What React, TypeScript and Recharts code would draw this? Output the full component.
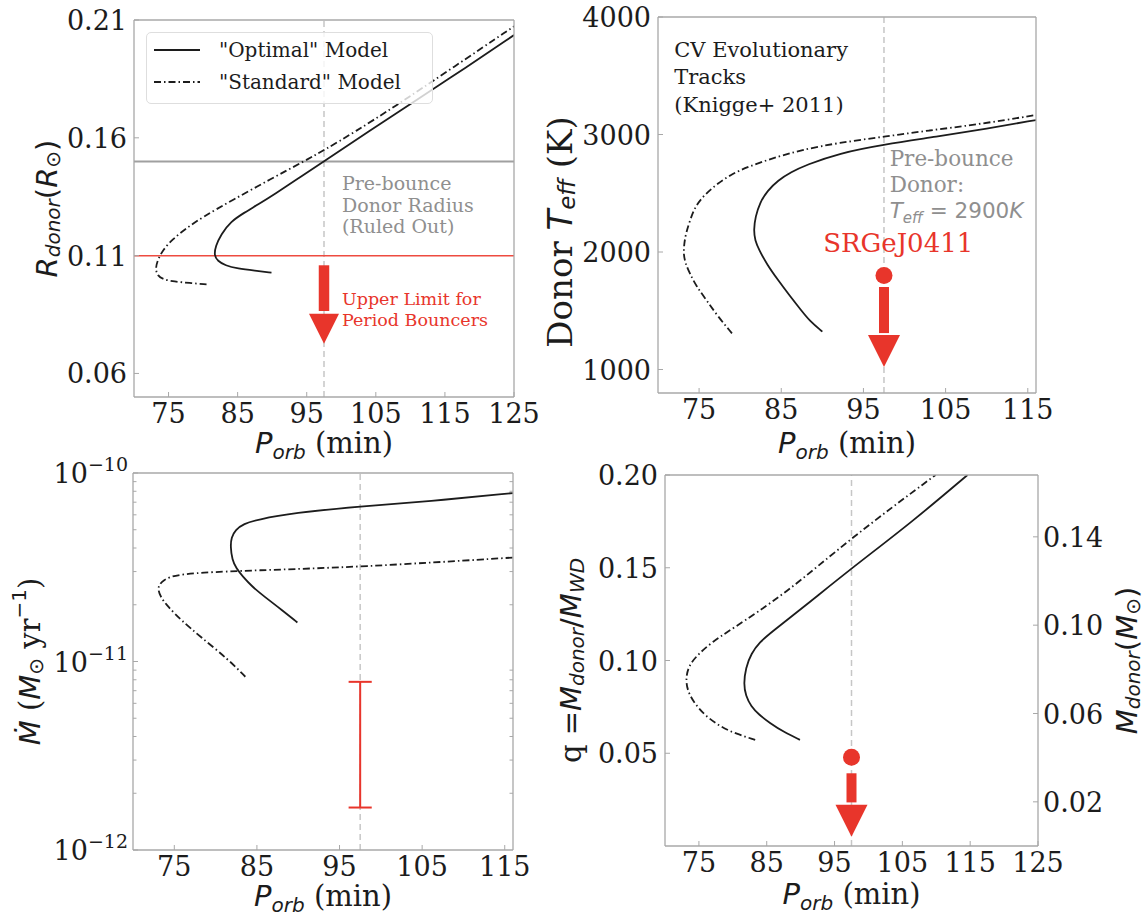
import {
  ComposedChart, Line, XAxis, YAxis, ReferenceLine, ReferenceDot, Legend,
} from 'recharts'

const SERIF = "'DejaVu Serif', serif"
const SANS = "'DejaVu Sans', sans-serif"
const INK = '#1c1c1c'
const RED = '#e8352b'
const RED_LINE = '#ee4b40'
const NOTE_GRAY = '#8f8f8f'
const SPINE = '#a8a8a8'
const GUIDE = '#c6c6c6'
const DASH_DOT = '7 3 1.5 3'

const SRG_PERIOD = 97.5
const MODEL_NAMES = ['"Optimal" Model', '"Standard" Model']
const MODEL_DASHES = [undefined, DASH_DOT]

// --- donor radius vs period
const P_TICKS_125 = [75, 85, 95, 105, 115, 125]
const P_TICKS_115 = [75, 85, 95, 105, 115]
const R_TICKS = [0.06, 0.11, 0.16, 0.21]
const radOptP = [89.9, 87.5, 85.0, 83.2, 82.1, 81.6, 81.8, 82.6, 84.0, 86.0, 88.0, 90.3, 94.0, 97.5, 104.0, 110.6, 118.0, 125.0]
const radOptR = [0.1028, 0.1036, 0.1045, 0.1058, 0.1078, 0.11, 0.114, 0.119, 0.1245, 0.1283, 0.1318, 0.136, 0.1432, 0.15, 0.1628, 0.1755, 0.1897, 0.2036]
const radStdP = [80.5, 78.0, 75.8, 74.2, 73.4, 73.1, 73.4, 74.2, 75.6, 77.5, 80.0, 84.2, 89.8, 94.7, 97.5, 102.0, 107.4, 116.0, 125.0]
const radStdR = [0.0978, 0.0984, 0.099, 0.0999, 0.1015, 0.1044, 0.108, 0.1125, 0.117, 0.1215, 0.1265, 0.1335, 0.1425, 0.1502, 0.1547, 0.1626, 0.1726, 0.1895, 0.2073]
const PREBOUNCE_R = 0.15
const BOUNCER_R = 0.11
const R_ARROW = [0.1059, 0.0865, 0.0726] // shaft top, shaft end, tip

// --- donor temperature vs period
const T_TICKS = [1000, 2000, 3000, 4000]
const tOptP = [90.0, 88.5, 87.4, 86.0, 84.6, 83.3, 82.3, 81.8, 81.65, 81.85, 82.4, 83.3, 84.6, 86.2, 88.0, 92.0, 97.5, 103.9, 110.0, 116.0]
const tOptT = [1322, 1410, 1506, 1630, 1762, 1890, 2017, 2100, 2187, 2300, 2420, 2520, 2610, 2680, 2740, 2840, 2915, 2981, 3050, 3123]
const tStdP = [79.0, 77.3, 75.9, 74.7, 73.85, 73.3, 73.1, 73.2, 73.4, 73.9, 74.5, 75.7, 77.3, 79.0, 81.0, 84.0, 87.4, 92.0, 97.5, 103.0, 108.5, 116.0]
const tStdT = [1308, 1450, 1591, 1705, 1819, 1910, 1989, 2075, 2159, 2270, 2386, 2490, 2585, 2665, 2726, 2800, 2868, 2930, 2981, 3035, 3081, 3166]
const SRG_TEFF = 1800
const T_ARROW = [1702, 1310, 1021]

// --- mass transfer rate vs period
const MDOT_TICKS = [1e-12, 1e-11, 1e-10]
const MDOT_MINOR = [2e-12, 3e-12, 4e-12, 5e-12, 6e-12, 7e-12, 8e-12, 9e-12, 2e-11, 3e-11, 4e-11, 5e-11, 6e-11, 7e-11, 8e-11, 9e-11]
const mOptP = [89.9, 88.0, 85.9, 84.4, 83.3, 82.5, 82.0, 81.8, 81.9, 82.4, 83.4, 85.0, 89.4, 97.5, 105.8, 116.0]
const mOptM = [1.61e-11, 1.88e-11, 2.21e-11, 2.5e-11, 2.82e-11, 3.12e-11, 3.47e-11, 4.07e-11, 4.55e-11, 5.0e-11, 5.38e-11, 5.65e-11, 6.14e-11, 6.65e-11, 7.07e-11, 7.83e-11]
const mStdP = [83.6, 81.6, 78.1, 75.8, 74.2, 73.4, 73.0, 73.2, 73.8, 74.5, 75.5, 78.0, 84.2, 97.5, 116.0]
const mStdM = [8.3e-12, 1.02e-11, 1.36e-11, 1.66e-11, 1.96e-11, 2.18e-11, 2.4e-11, 2.58e-11, 2.71e-11, 2.81e-11, 2.88e-11, 2.96e-11, 3.04e-11, 3.17e-11, 3.56e-11]
const SRG_MDOT = [1.68e-12, 7.8e-12]

// --- mass ratio vs period
const Q_TICKS = [0.05, 0.1, 0.15, 0.2]
const MASS_TICKS = [0.02, 0.06, 0.1, 0.14]
const WD_MASS = 0.84
const Q_MAX = 0.2
const qOptP = [89.9, 87.5, 85.5, 83.8, 82.7, 81.9, 81.6, 81.9, 82.7, 84.0, 85.5, 90.5, 97.5, 106.5, 114.6]
const qOptQ = [0.0572, 0.0615, 0.0662, 0.071, 0.0752, 0.081, 0.0874, 0.096, 0.1038, 0.11, 0.1147, 0.129, 0.1497, 0.1749, 0.2]
const qStdP = [83.3, 80.5, 78.3, 76.0, 74.4, 73.4, 73.05, 73.4, 75.0, 77.0, 79.4, 87.7, 97.5, 109.9]
const qStdQ = [0.0572, 0.0605, 0.064, 0.07, 0.0766, 0.083, 0.0892, 0.097, 0.1038, 0.11, 0.1159, 0.1357, 0.1663, 0.2]
const SRG_Q = 0.0478
const Q_ARROW = [0.0392, 0.0235, 0.005]

const zip = (xs: number[], ys: number[]) => xs.map((x, i) => ({ x, y: ys[i] }))

const axisLine = { stroke: SPINE, strokeWidth: 1.3 }
const tickLine = { stroke: SPINE, strokeWidth: 1 }

function XTick({ x, y, payload }: any) {
  return (
    <text x={x} y={y} dy={20} textAnchor="middle" fontFamily={SERIF} fontSize={27} fill={INK}>
      {payload.value}
    </text>
  )
}

function NumTick({ x, y, payload, digits = 0, anchor = 'end' }: any) {
  return (
    <text x={x} y={y} dy={10} textAnchor={anchor} fontFamily={SERIF} fontSize={27} fill={INK}>
      {Number(payload.value).toFixed(digits)}
    </text>
  )
}

function PowTick({ x, y, payload }: any) {
  const exp = Math.round(Math.log10(payload.value))
  return (
    <text x={x} y={y} dy={10} textAnchor="end" fontFamily={SERIF} fontSize={27} fill={INK}>
      10<tspan dy={-12} fontSize={19}>{`\u2212${Math.abs(exp)}`}</tspan>
    </text>
  )
}

function RotLabel({ x, y, size = 29, children }: any) {
  return (
    <text x={x} y={y} transform={`rotate(-90 ${x} ${y})`} textAnchor="middle" dominantBaseline="central"
      fontFamily={SERIF} fontSize={size} fill={INK}>
      {children}
    </text>
  )
}

function PorbLabel({ x, y }: any) {
  return (
    <text x={x} y={y} textAnchor="middle" fontFamily={SERIF} fontSize={29} fill={INK}>
      <tspan fontFamily={SANS} fontStyle="italic">P</tspan>
      <tspan fontFamily={SANS} fontStyle="italic" fontSize={20} dy={6}>orb</tspan>
      <tspan dy={-6}>{' (min)'}</tspan>
    </text>
  )
}

function ArrowHead({ cx, cy, w, h }: any) {
  return <polygon points={`${cx - w / 2},${cy - h} ${cx + w / 2},${cy - h} ${cx},${cy}`} fill={RED} />
}

function Note({ cx, cy, lines, size, step, color }: any) {
  return (
    <text x={cx} y={cy} fontFamily={SERIF} fontSize={size} fill={color}>
      {lines.map((l: any, i: number) => (
        <tspan key={i} x={cx} dy={i === 0 ? 0 : step}>{l}</tspan>
      ))}
    </text>
  )
}

function ModelLegend() {
  return (
    <div style={{
      width: 287, height: 72, boxSizing: 'border-box', border: '1px solid #dedede',
      borderRadius: 5, background: 'rgba(255,255,255,0.8)',
    }}>
      <svg width={285} height={70} style={{ display: 'block' }}>
        {MODEL_NAMES.map((name, i) => (
          <g key={name}>
            <line x1={7} x2={53} y1={17 + i * 32} y2={17 + i * 32} stroke={INK} strokeWidth={1.8}
              strokeDasharray={MODEL_DASHES[i]} />
            <text x={72} y={24 + i * 32} fontFamily={SERIF} fontSize={20} fill={INK}>{name}</text>
          </g>
        ))}
      </svg>
    </div>
  )
}

function tracks(opt: { x: number, y: number }[], std: { x: number, y: number }[]) {
  return [
    <Line key="std" data={std} dataKey="y" name={MODEL_NAMES[1]} type="basis" stroke={INK} strokeWidth={1.8}
      strokeDasharray={DASH_DOT} dot={false} activeDot={false} isAnimationActive={false} />,
    <Line key="opt" data={opt} dataKey="y" name={MODEL_NAMES[0]} type="basis" stroke={INK} strokeWidth={1.8}
      dot={false} activeDot={false} isAnimationActive={false} />,
  ]
}

function RadiusPanel() {
  return (
    <div style={{ position: 'absolute', left: 0, top: 0 }}>
      <ComposedChart width={560} height={466} margin={{ top: 19, right: 45, bottom: 0, left: 0 }}>
        <XAxis dataKey="x" type="number" domain={[70, 125]} ticks={P_TICKS_125} allowDataOverflow height={69}
          tickSize={-5} tickMargin={11} tick={XTick} axisLine={axisLine} tickLine={tickLine}
          label={() => <PorbLabel x={324} y={453} />} />
        <XAxis xAxisId="top" orientation="top" type="number" domain={[70, 125]} ticks={P_TICKS_125} allowDataOverflow
          height={1} tick={false} tickSize={-5} axisLine={axisLine} tickLine={tickLine} />
        <YAxis type="number" domain={[0.05, 0.21]} ticks={R_TICKS} allowDataOverflow width={134}
          tickSize={-5} tickMargin={12} tick={(p: any) => <NumTick {...p} digits={2} />} axisLine={axisLine} tickLine={tickLine}
          label={() => (
            <RotLabel x={47} y={208.5}>
              <tspan fontFamily={SANS} fontStyle="italic">R</tspan>
              <tspan fontFamily={SANS} fontStyle="italic" fontSize={20} dy={6}>donor</tspan>
              <tspan fontFamily={SANS} dy={-6}>(</tspan>
              <tspan fontFamily={SANS} fontStyle="italic">R</tspan>
              <tspan fontFamily={SANS} fontSize={20} dy={6}>⊙</tspan>
              <tspan fontFamily={SANS} dy={-6}>)</tspan>
            </RotLabel>
          )} />
        <YAxis yAxisId="right" orientation="right" type="number" domain={[0.05, 0.21]} ticks={R_TICKS} allowDataOverflow
          width={1} tick={false} tickSize={-5} axisLine={axisLine} tickLine={tickLine} />
        <ReferenceLine x={SRG_PERIOD} stroke={GUIDE} strokeDasharray="6 4" strokeWidth={1.5} />
        <ReferenceLine y={PREBOUNCE_R} stroke="#a0a0a0" strokeWidth={2} />
        <ReferenceLine y={BOUNCER_R} stroke={RED_LINE} strokeWidth={1.5} />
        {tracks(zip(radOptP, radOptR), zip(radStdP, radStdR))}
        <ReferenceLine segment={[{ x: SRG_PERIOD, y: R_ARROW[0] }, { x: SRG_PERIOD, y: R_ARROW[1] }]}
          stroke={RED} strokeWidth={10.5} />
        <ReferenceDot x={SRG_PERIOD} y={R_ARROW[2]} shape={(p: any) => <ArrowHead {...p} w={30} h={30} />} />
        <ReferenceDot x={100.1} y={0.1378} shape={(p: any) => (
          <Note {...p} lines={['Pre-bounce', 'Donor Radius', '(Ruled Out)']} size={19} step={21.5} color={NOTE_GRAY} />
        )} />
        <ReferenceDot x={100.1} y={0.0891} shape={(p: any) => (
          <Note {...p} lines={['Upper Limit for', 'Period Bouncers']} size={17.5} step={21.5} color={RED} />
        )} />
        <Legend content={ModelLegend} layout="vertical" align="center" verticalAlign="middle"
          wrapperStyle={{ left: 146, top: 32, width: 287, height: 72 }} />
      </ComposedChart>
    </div>
  )
}

function TeffPanel() {
  return (
    <div style={{ position: 'absolute', left: 540, top: 0 }}>
      <ComposedChart width={537} height={466} margin={{ top: 16, right: 40, bottom: 0, left: 0 }}>
        <XAxis dataKey="x" type="number" domain={[70, 116]} ticks={P_TICKS_115} allowDataOverflow height={73}
          tickSize={-5} tickMargin={11} tick={XTick} axisLine={axisLine} tickLine={tickLine}
          label={() => <PorbLabel x={307} y={453} />} />
        <XAxis xAxisId="top" orientation="top" type="number" domain={[70, 116]} ticks={P_TICKS_115} allowDataOverflow
          height={1} tick={false} tickSize={-5} axisLine={axisLine} tickLine={tickLine} />
        <YAxis type="number" domain={[800, 4000]} ticks={T_TICKS} allowDataOverflow width={118}
          tickSize={-5} tickMargin={12} tick={(p: any) => <NumTick {...p} />} axisLine={axisLine} tickLine={tickLine}
          label={() => (
            <RotLabel x={20} y={232} size={34}>
              <tspan>{'Donor '}</tspan>
              <tspan fontFamily={SANS} fontStyle="italic">T</tspan>
              <tspan fontFamily={SANS} fontStyle="italic" fontSize={23} dy={7}>eff</tspan>
              <tspan dy={-7}>{' (K)'}</tspan>
            </RotLabel>
          )} />
        <YAxis yAxisId="right" orientation="right" type="number" domain={[800, 4000]} ticks={T_TICKS} allowDataOverflow
          width={1} tick={false} tickSize={-5} axisLine={axisLine} tickLine={tickLine} />
        <ReferenceLine x={SRG_PERIOD} stroke={GUIDE} strokeDasharray="6 4" strokeWidth={1.5} />
        {tracks(zip(tOptP, tOptT), zip(tStdP, tStdT))}
        <ReferenceLine segment={[{ x: SRG_PERIOD, y: T_ARROW[0] }, { x: SRG_PERIOD, y: T_ARROW[1] }]}
          stroke={RED} strokeWidth={10} />
        <ReferenceDot x={SRG_PERIOD} y={T_ARROW[2]} shape={(p: any) => <ArrowHead {...p} w={32} h={32} />} />
        <ReferenceDot x={SRG_PERIOD} y={SRG_TEFF} r={8.5} fill={RED} stroke="none" />
        <ReferenceDot x={71.98} y={3661} shape={(p: any) => (
          <Note {...p} lines={['CV Evolutionary', 'Tracks', '(Knigge+ 2011)']} size={21} step={27.5} color={INK} />
        )} />
        <ReferenceDot x={98.19} y={2732} shape={(p: any) => (
          <Note {...p} size={21.5} step={26} color={NOTE_GRAY} lines={[
            'Pre-bounce', 'Donor:',
            <tspan key="t" fontFamily={SANS}>
              <tspan fontStyle="italic">T</tspan>
              <tspan fontStyle="italic" fontSize={15} dy={5}>eff</tspan>
              <tspan dy={-5}>{' = 2900'}</tspan>
              <tspan fontStyle="italic">K</tspan>
            </tspan>,
          ]} />
        )} />
        <ReferenceDot x={90.1} y={2000} shape={(p: any) => (
          <Note {...p} lines={['SRGeJ0411']} size={26} step={0} color={RED} />
        )} />
      </ComposedChart>
    </div>
  )
}

function MdotPanel() {
  return (
    <div style={{ position: 'absolute', left: 0, top: 450 }}>
      <ComposedChart width={554} height={466} margin={{ top: 22, right: 40, bottom: 0, left: 0 }}>
        <XAxis dataKey="x" type="number" domain={[70, 116]} ticks={P_TICKS_115} allowDataOverflow height={66}
          tickSize={-5} tickMargin={11} tick={XTick} axisLine={axisLine} tickLine={tickLine}
          label={() => <PorbLabel x={323} y={456} />} />
        <XAxis xAxisId="top" orientation="top" type="number" domain={[70, 116]} ticks={P_TICKS_115} allowDataOverflow
          height={1} tick={false} tickSize={-5} axisLine={axisLine} tickLine={tickLine} />
        <YAxis type="number" scale="log" domain={[1e-12, 1e-10]} ticks={MDOT_TICKS} allowDataOverflow width={133}
          tickSize={-5} tickMargin={10} tick={PowTick} axisLine={axisLine} tickLine={tickLine}
          label={() => (
            <RotLabel x={30} y={211.5}>
              <tspan fontFamily={SANS} fontStyle="italic">Ṁ</tspan>
              <tspan>{' ('}</tspan>
              <tspan fontFamily={SANS} fontStyle="italic">M</tspan>
              <tspan fontFamily={SANS} fontSize={20} dy={6}>⊙</tspan>
              <tspan dy={-6}>{' yr'}</tspan>
              <tspan fontFamily={SANS} fontSize={20} dy={-11}>−1</tspan>
              <tspan dy={11}>)</tspan>
            </RotLabel>
          )} />
        <YAxis yAxisId="right" orientation="right" type="number" scale="log" domain={[1e-12, 1e-10]} ticks={MDOT_TICKS}
          allowDataOverflow width={1} tick={false} tickSize={-5} axisLine={axisLine} tickLine={tickLine} />
        {MDOT_MINOR.map((v) => (
          <ReferenceLine key={`l${v}`} segment={[{ x: 70, y: v }, { x: 70.42, y: v }]} stroke={SPINE} strokeWidth={1} />
        ))}
        {MDOT_MINOR.map((v) => (
          <ReferenceLine key={`r${v}`} segment={[{ x: 115.58, y: v }, { x: 116, y: v }]} stroke={SPINE} strokeWidth={1} />
        ))}
        <ReferenceLine x={SRG_PERIOD} stroke={GUIDE} strokeDasharray="6 4" strokeWidth={1.5} />
        {tracks(zip(mOptP, mOptM), zip(mStdP, mStdM))}
        <ReferenceLine segment={[{ x: SRG_PERIOD, y: SRG_MDOT[0] }, { x: SRG_PERIOD, y: SRG_MDOT[1] }]}
          stroke={RED} strokeWidth={2} />
        {SRG_MDOT.map((v) => (
          <ReferenceLine key={`c${v}`} segment={[{ x: SRG_PERIOD - 1.4, y: v }, { x: SRG_PERIOD + 1.4, y: v }]}
            stroke={RED} strokeWidth={2} />
        ))}
      </ComposedChart>
    </div>
  )
}

function MassRatioPanel() {
  return (
    <div style={{ position: 'absolute', left: 540, top: 450 }}>
      <ComposedChart width={608} height={466} margin={{ top: 24, right: 0, bottom: 0, left: 0 }}>
        <XAxis dataKey="x" type="number" domain={[70, 125]} ticks={P_TICKS_125} allowDataOverflow height={70}
          tickSize={-5} tickMargin={11} tick={XTick} axisLine={axisLine} tickLine={tickLine}
          label={() => <PorbLabel x={311.5} y={454} />} />
        <XAxis xAxisId="top" orientation="top" type="number" domain={[70, 125]} ticks={P_TICKS_125} allowDataOverflow
          height={1} tick={false} tickSize={-5} axisLine={axisLine} tickLine={tickLine} />
        <YAxis type="number" domain={[0, Q_MAX]} ticks={Q_TICKS} allowDataOverflow width={125}
          tickSize={-5} tickMargin={12} tick={(p: any) => <NumTick {...p} digits={2} />} axisLine={axisLine} tickLine={tickLine}
          label={() => (
            <RotLabel x={31} y={210.5}>
              <tspan>{'q ='}</tspan>
              <tspan fontFamily={SANS} fontStyle="italic">M</tspan>
              <tspan fontFamily={SANS} fontStyle="italic" fontSize={20} dy={6}>donor</tspan>
              <tspan fontFamily={SANS} dy={-6}>/</tspan>
              <tspan fontFamily={SANS} fontStyle="italic">M</tspan>
              <tspan fontFamily={SANS} fontStyle="italic" fontSize={20} dy={6}>WD</tspan>
            </RotLabel>
          )} />
        <YAxis yAxisId="mass" orientation="right" type="number" domain={[0, Q_MAX * WD_MASS]} ticks={MASS_TICKS}
          allowDataOverflow width={110} tickSize={-5} tickMargin={10}
          tick={(p: any) => <NumTick {...p} digits={2} anchor="start" />} axisLine={axisLine} tickLine={tickLine}
          label={() => (
            <RotLabel x={587} y={210.5}>
              <tspan fontFamily={SANS} fontStyle="italic">M</tspan>
              <tspan fontFamily={SANS} fontStyle="italic" fontSize={20} dy={6}>donor</tspan>
              <tspan fontFamily={SANS} dy={-6}>(</tspan>
              <tspan fontFamily={SANS} fontStyle="italic">M</tspan>
              <tspan fontFamily={SANS} fontSize={20} dy={6}>⊙</tspan>
              <tspan fontFamily={SANS} dy={-6}>)</tspan>
            </RotLabel>
          )} />
        <ReferenceLine x={SRG_PERIOD} stroke={GUIDE} strokeDasharray="6 4" strokeWidth={1.5} />
        {tracks(zip(qOptP, qOptQ), zip(qStdP, qStdQ))}
        <ReferenceLine segment={[{ x: SRG_PERIOD, y: Q_ARROW[0] }, { x: SRG_PERIOD, y: Q_ARROW[1] }]}
          stroke={RED} strokeWidth={10} />
        <ReferenceDot x={SRG_PERIOD} y={Q_ARROW[2]} shape={(p: any) => <ArrowHead {...p} w={32} h={32} />} />
        <ReferenceDot x={SRG_PERIOD} y={SRG_Q} r={8.5} fill={RED} stroke="none" />
      </ComposedChart>
    </div>
  )
}

export default function App() {
  return (
    <div style={{
      position: 'absolute', left: 0, top: 0, width: 1148, height: 916,
      background: '#fff', overflow: 'hidden', fontFamily: SERIF,
    }}>
      <RadiusPanel />
      <TeffPanel />
      <MdotPanel />
      <MassRatioPanel />
    </div>
  )
}
